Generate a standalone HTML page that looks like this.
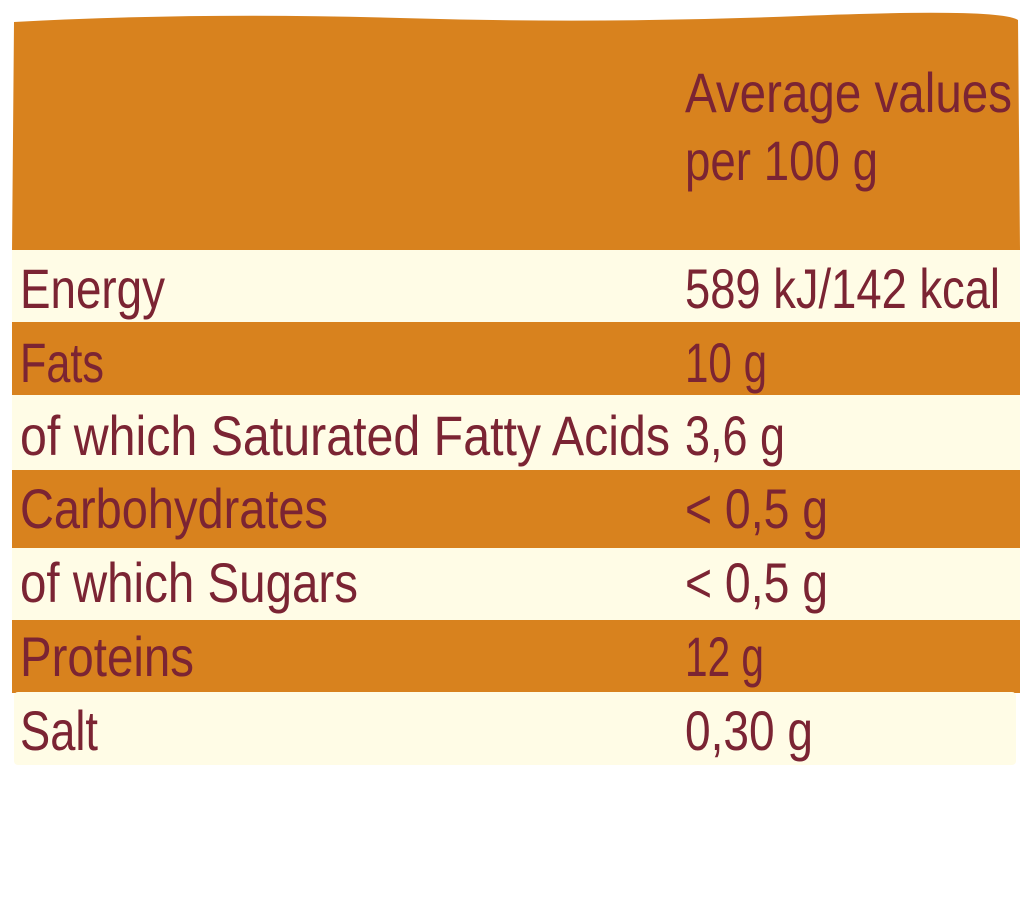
<!DOCTYPE html>
<html><head><meta charset="utf-8"><style>
html,body{margin:0;padding:0;background:#fff;}
svg{display:block}
text{font-family:"Liberation Sans Narrow","Liberation Sans",sans-serif;font-size:56px;fill:#7B2433;}
</style></head><body>
<svg width="1024" height="912" viewBox="0 0 1024 912">
<path d="M14,22 Q200,12 400,18 T800,16 T1018,20 L1020,250 L12,252 Z" fill="#D8821E"/>
<rect x="12" y="250" width="1008" height="73" fill="#FFFCE6"/>
<rect x="12" y="322" width="1008" height="74" fill="#D8821E"/>
<rect x="12" y="395" width="1008" height="76" fill="#FFFCE6"/>
<rect x="12" y="470" width="1008" height="79" fill="#D8821E"/>
<rect x="12" y="548" width="1008" height="73" fill="#FFFCE6"/>
<rect x="12" y="620" width="1008" height="73" fill="#D8821E"/>
<rect x="14" y="692" width="1002" height="73" rx="4" fill="#FFFCE6"/>

<text x="685" y="112" textLength="327" lengthAdjust="spacingAndGlyphs">Average values</text>
<text x="685" y="180" textLength="193" lengthAdjust="spacingAndGlyphs">per 100 g</text>

<text x="20" y="308" textLength="145" lengthAdjust="spacingAndGlyphs">Energy</text>
<text x="685" y="308" textLength="315" lengthAdjust="spacingAndGlyphs">589 kJ/142 kcal</text>
<text x="20" y="382" textLength="84" lengthAdjust="spacingAndGlyphs">Fats</text>
<text x="685" y="382" textLength="82" lengthAdjust="spacingAndGlyphs">10 g</text>
<text x="20" y="455" textLength="650" lengthAdjust="spacingAndGlyphs">of which Saturated Fatty Acids</text>
<text x="685" y="455" textLength="100" lengthAdjust="spacingAndGlyphs">3,6 g</text>
<text x="20" y="528" textLength="308" lengthAdjust="spacingAndGlyphs">Carbohydrates</text>
<text x="685" y="528" textLength="143" lengthAdjust="spacingAndGlyphs">&lt; 0,5 g</text>
<text x="20" y="602" textLength="338" lengthAdjust="spacingAndGlyphs">of which Sugars</text>
<text x="685" y="602" textLength="143" lengthAdjust="spacingAndGlyphs">&lt; 0,5 g</text>
<text x="20" y="676" textLength="174" lengthAdjust="spacingAndGlyphs">Proteins</text>
<text x="685" y="676" textLength="79" lengthAdjust="spacingAndGlyphs">12 g</text>
<text x="20" y="750" textLength="78" lengthAdjust="spacingAndGlyphs">Salt</text>
<text x="685" y="750" textLength="128" lengthAdjust="spacingAndGlyphs">0,30 g</text>
</svg>
</body></html>
